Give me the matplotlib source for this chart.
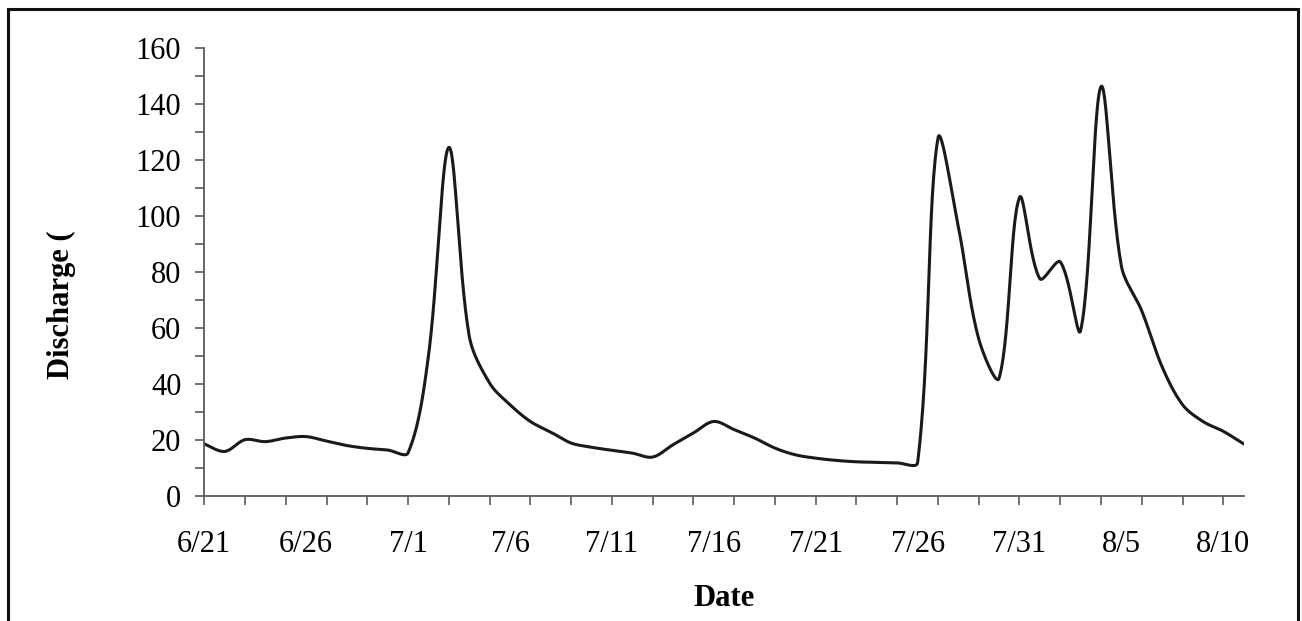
import numpy as np
import matplotlib
matplotlib.use("Agg")
import matplotlib.pyplot as plt
from matplotlib.patches import Rectangle

plt.rcParams['font.family'] = ['Liberation Serif', 'DejaVu Serif']

# daily discharge, 6/21 .. 8/11
days = np.arange(52)
discharge = [18.5, 15.8, 20.0, 19.3, 20.6, 21.1, 19.5, 17.9, 16.9, 16.3,
             15.3, 50.0, 124.4, 57.0, 40.2, 32.5, 26.5, 22.7, 18.8, 17.3,
             16.2, 15.2, 13.8, 18.2, 22.4, 26.5, 23.6, 20.6, 17.0, 14.6,
             13.4, 12.6, 12.1, 11.9, 11.7, 11.8, 127.7, 96.0, 56.0, 42.0,
             106.5, 77.5, 83.5, 59.0, 146.1, 82.0, 66.0, 46.0, 32.5, 26.5,
             23.0, 18.5]
label_days = [0, 5, 10, 15, 20, 25, 30, 35, 40, 45, 50]
date_labels = ['6/21', '6/26', '7/1', '7/6', '7/11', '7/16', '7/21',
               '7/26', '7/31', '8/5', '8/10']


def smooth(x, y, sx=20.4, sy=2.8, n=30):
    # spreadsheet-style smoothed line: bezier segments, handle lengths
    # weighted by the on-screen length of the neighbouring segments
    P = np.column_stack([np.asarray(x, float) * sx, np.asarray(y, float) * sy])
    m = len(P)
    cin = P.copy()
    cout = P.copy()
    for i in range(m):
        a = P[max(i - 1, 0)]
        b = P[min(i + 1, m - 1)]
        T = b - a
        dp = np.linalg.norm(P[i] - a)
        dn = np.linalg.norm(b - P[i])
        if dp + dn == 0:
            continue
        if i == 0 or i == m - 1:
            cout[i] = P[i] + T / 6
            cin[i] = P[i] - T / 6
            continue
        cout[i] = P[i] + T * dn / (dp + dn) / 3
        cin[i] = P[i] - T * dp / (dp + dn) / 3
    t = np.linspace(0, 1, n, endpoint=False)[:, None]
    pts = []
    for i in range(m - 1):
        p1, c1, c2, p2 = P[i], cout[i], cin[i + 1], P[i + 1]
        pts.append((1 - t) ** 3 * p1 + 3 * (1 - t) ** 2 * t * c1
                   + 3 * (1 - t) * t ** 2 * c2 + t ** 3 * p2)
    pts.append(P[-1:])
    pts = np.concatenate(pts)
    return pts[:, 0] / sx, pts[:, 1] / sy


fig = plt.figure(figsize=(13.02, 6.21), dpi=100)
ax = fig.add_axes([0.1569, 0.2018, 0.7983, 0.7214])

sx, sy = smooth(days, discharge)
ax.plot(sx, sy, color='#1a1a1a', lw=2.2, solid_capstyle='round')

ax.set_xlim(0, 51)
ax.set_ylim(0, 160)

axis_col = '#5a5a5a'
for s in ['top', 'right']:
    ax.spines[s].set_visible(False)
for s in ['left', 'bottom']:
    ax.spines[s].set_color(axis_col)
    ax.spines[s].set_linewidth(1.3)

ax.set_yticks(np.arange(0, 161, 20))
ax.set_yticks(np.arange(0, 161, 10), minor=True)
ax.tick_params(axis='y', which='both', direction='out', length=6.5, width=1.2,
               color=axis_col, labelsize=22, pad=10)

ax.xaxis.remove_overlapping_locs = False
ax.set_xticks(label_days)
ax.set_xticklabels(date_labels)
ax.set_xticks(np.arange(0, 51, 2), minor=True)
ax.tick_params(axis='x', which='major', length=0, labelsize=22, pad=25)
ax.tick_params(axis='x', which='minor', direction='out', length=6.5, width=1.2,
               color=axis_col)

fig.text(724 / 1302, 1 - 598 / 621, 'Date', ha='center', va='center',
         fontsize=22, fontweight='bold')
fig.text(61 / 1302, 1 - 305 / 621, 'Discharge (', ha='center', va='center',
         rotation=90, fontsize=22, fontweight='bold')

fig.add_artist(Rectangle((8 / 1302, -0.1), 1290 / 1302, 1.1 - 9 / 621,
                         transform=fig.transFigure, fill=False,
                         edgecolor='#111111', lw=2.2, clip_on=False))

fig.savefig('out.png', dpi=100)
